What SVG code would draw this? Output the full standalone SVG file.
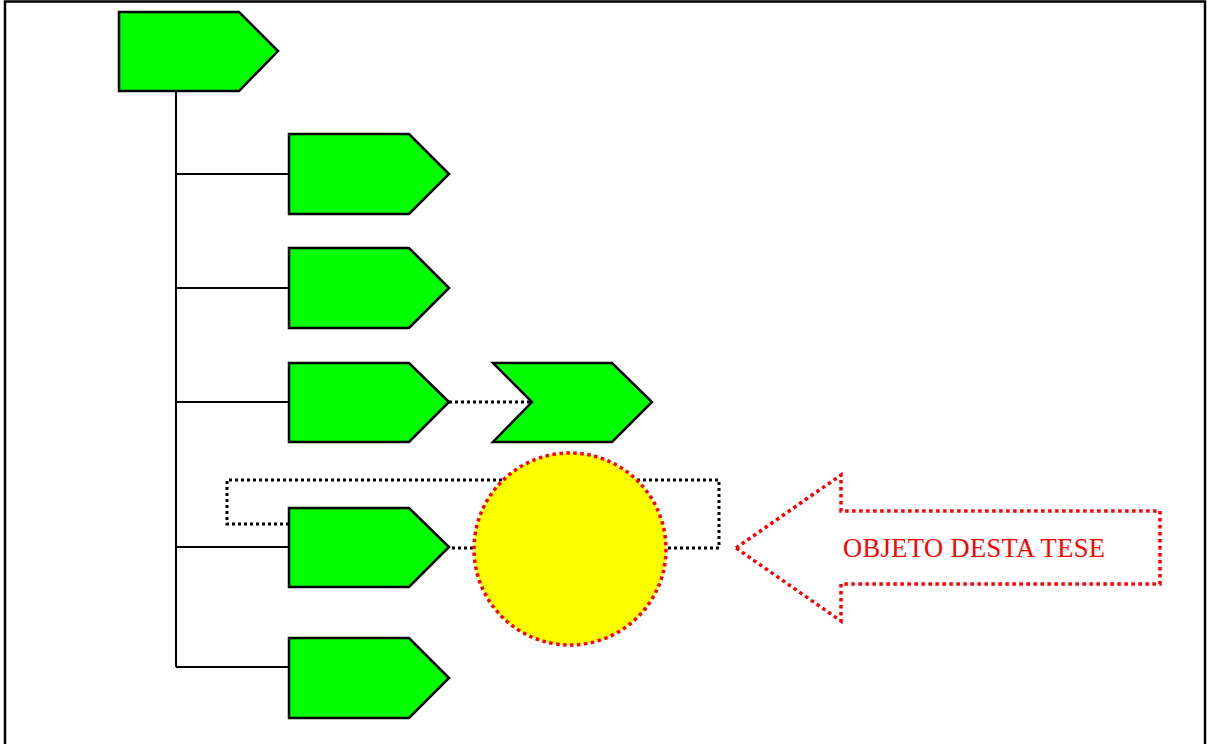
<svg xmlns="http://www.w3.org/2000/svg" width="1207" height="744" viewBox="0 0 1207 744">
<style>
.n{fill:#00ff00;stroke:#000;stroke-width:2.5;stroke-linejoin:miter}
.c{fill:none;stroke:#000;stroke-width:2}
.d{fill:none;stroke:#000;stroke-width:3;stroke-dasharray:3 3}
.r{stroke:#ff0000;stroke-width:3.5;stroke-dasharray:3.5 3.5}
</style>
<rect x="0" y="0" width="1207" height="744" fill="#fff"/>
<path d="M5,750 V1.5 H1205 V750" fill="none" stroke="#000" stroke-width="2.5"/>
<g id="connectors">
<path class="c" d="M176,91 V667"/>
<path class="c" d="M176,174 H289 M176,288 H289 M176,402 H289 M176,547 H289 M176,667 H289"/>
<path class="d" d="M449,402 H532"/>
<path class="d" d="M289,524 H227 V480 H719 V548 H449"/>
</g>
<g id="root"><path class="n" d="M119,12 H239 L278,51 L239,91 H119 Z"/></g>
<g id="n1"><path class="n" d="M289,134 H409 L449,174 L409,214 H289 Z"/></g>
<g id="n2"><path class="n" d="M289,248 H409 L449,288 L409,328 H289 Z"/></g>
<g id="n3"><path class="n" d="M289,363 H409 L449,402 L409,442 H289 Z"/></g>
<g id="n3b"><path class="n" d="M493,363 H612 L652,402 L612,442 H493 L532,402 Z"/></g>
<g id="n4"><path class="n" d="M289,508 H409 L449,547 L409,587 H289 Z"/></g>
<g id="n5"><path class="n" d="M289,638 H409 L449,678 L409,718 H289 Z"/></g>
<g id="circle"><circle cx="570" cy="549" r="96" fill="#ffff00" class="r"/></g>
<g id="arrow">
<path d="M736,548 L841,475 V511 H1160 V584 H841 V621 Z" fill="none" class="r"/>
<text x="843" y="557" font-family="Liberation Serif, serif" font-size="26.5" fill="#ff0000" textLength="262">OBJETO DESTA TESE</text>
</g>
</svg>
